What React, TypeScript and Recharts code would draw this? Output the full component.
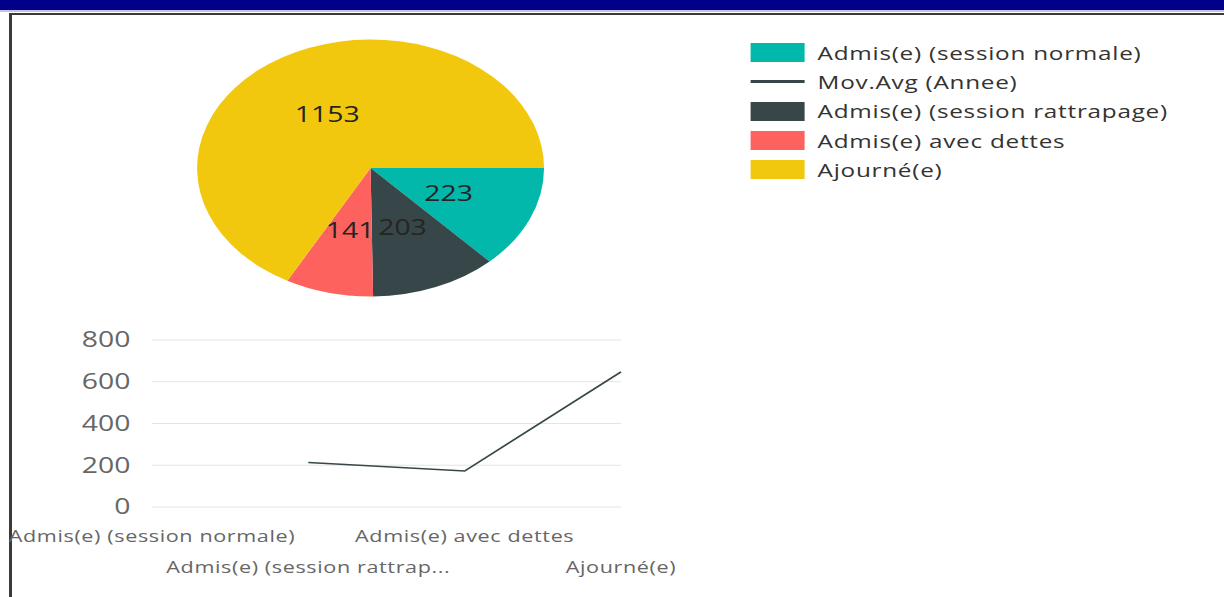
import React from 'react';
import { PieChart, Pie, Cell, LineChart, Line, XAxis, YAxis, CartesianGrid } from 'recharts';

// resultats par decision
const categories = ['Admis(e) (session normale)', 'Admis(e) (session rattrapage)', 'Admis(e) avec dettes', 'Ajourné(e)'];
const counts = [223, 203, 141, 1153];
const movAvg: (number | null)[] = [null, 213, 172, 647];
const sliceColors = ['#01B8AA', '#374649', '#FD625E', '#F2C80F'];
const lineColor = '#374649';
const yTicks = [0, 200, 400, 600, 800];

const legendNames = ['Admis(e) (session normale)', 'Mov.Avg (Annee)', 'Admis(e) (session rattrapage)', 'Admis(e) avec dettes', 'Ajourné(e)'];
const legendKinds = ['box', 'line', 'box', 'box', 'box'];
const legendColors = ['#01B8AA', '#374649', '#374649', '#FD625E', '#F2C80F'];

const pieData = categories.map((name, i) => ({ name, value: counts[i] }));
const lineData = categories.map((name, i) => ({ name, movAvg: movAvg[i] }));

const FONT = "'Segoe UI', 'Open Sans', sans-serif";
const SX = 1.35; // the visual is stretched horizontally
const RAD = Math.PI / 180;

const renderPieLabel = (p: any) => {
  const r = p.outerRadius * 0.49;
  const x = p.cx + r * Math.cos(-p.midAngle * RAD);
  const y = p.cy + r * Math.sin(-p.midAngle * RAD);
  return (
    <text x={x} y={y} fill="#252423" fontSize={21} fontFamily={FONT} textAnchor="middle" dominantBaseline="central">
      {p.value}
    </text>
  );
};

const StaggerTick = (props: any) => {
  const { x, y, payload, index } = props;
  const v: string = payload.value;
  const label = v.length > 26 ? v.slice(0, 25) + '...' : v;
  return (
    <text
      x={x}
      y={y + (index % 2 ? 31 : 0)}
      dy="0.71em"
      textAnchor="middle"
      fill="#666"
      fontSize={16}
      letterSpacing={0.45}
      fontFamily={FONT}
    >
      {label}
    </text>
  );
};

export default function App() {
  return (
    <div style={{ position: 'absolute', left: 0, top: 0, width: 1224, height: 597, overflow: 'hidden', background: '#fff', fontFamily: FONT }}>
      {/* frame */}
      <div style={{ position: 'absolute', left: 0, top: 0, width: 1224, height: 10, background: '#00008b' }} />
      <div style={{ position: 'absolute', left: 0, top: 10, width: 1224, height: 2, background: '#c4c4e8' }} />
      <div style={{ position: 'absolute', left: 9, top: 13, width: 1215, height: 2, background: '#3a3a3a' }} />
      <div style={{ position: 'absolute', left: 9, top: 13, width: 3, height: 584, background: '#3a3a3a' }} />

      <div style={{ position: 'absolute', left: 0, top: 0, width: 1224 / SX, height: 597, transform: `scaleX(${SX})`, transformOrigin: '0 0' }}>
        <div style={{ position: 'absolute', left: 0, top: 0 }}>
          <PieChart width={420} height={320}>
            <Pie
              data={pieData}
              dataKey="value"
              nameKey="name"
              cx={269.5}
              cy={163}
              outerRadius={128.5}
              startAngle={0}
              endAngle={-360}
              stroke="none"
              label={renderPieLabel}
              labelLine={false}
              isAnimationActive={false}
            >
              {pieData.map((d, i) => (
                <Cell key={d.name} fill={sliceColors[i]} />
              ))}
            </Pie>
          </PieChart>
        </div>

        <div style={{ position: 'absolute', left: 555.6, top: 38 }}>
          {legendNames.map((n, i) => (
            <div key={n} style={{ display: 'flex', alignItems: 'center', height: 29.3 }}>
              <div style={{ width: 40, display: 'flex', alignItems: 'center' }}>
                <div style={{ width: 40, height: legendKinds[i] === 'line' ? 3 : 19, background: legendColors[i] }} />
              </div>
              <span style={{ marginLeft: 10, fontSize: 18, letterSpacing: 0.55, color: '#333', whiteSpace: 'nowrap' }}>{n}</span>
            </div>
          ))}
        </div>

        <div style={{ position: 'absolute', left: 0, top: 320 }}>
          <LineChart width={500} height={277} data={lineData} margin={{ top: 20, right: 40, left: 0, bottom: 0 }}>
            <CartesianGrid vertical={false} stroke="#e4e4e4" />
            <XAxis
              dataKey="name"
              axisLine={false}
              tickLine={false}
              tickSize={0}
              tickMargin={24}
              height={90}
              interval={0}
              tick={<StaggerTick />}
            />
            <YAxis
              domain={[0, 800]}
              ticks={yTicks}
              width={112.6}
              axisLine={false}
              tickLine={false}
              tickSize={0}
              tickMargin={16}
              tick={{ fill: '#666', fontSize: 21, fontFamily: FONT }}
            />
            <Line type="linear" dataKey="movAvg" stroke={lineColor} strokeWidth={1.5} dot={false} activeDot={false} isAnimationActive={false} />
          </LineChart>
        </div>
      </div>
    </div>
  );
}
